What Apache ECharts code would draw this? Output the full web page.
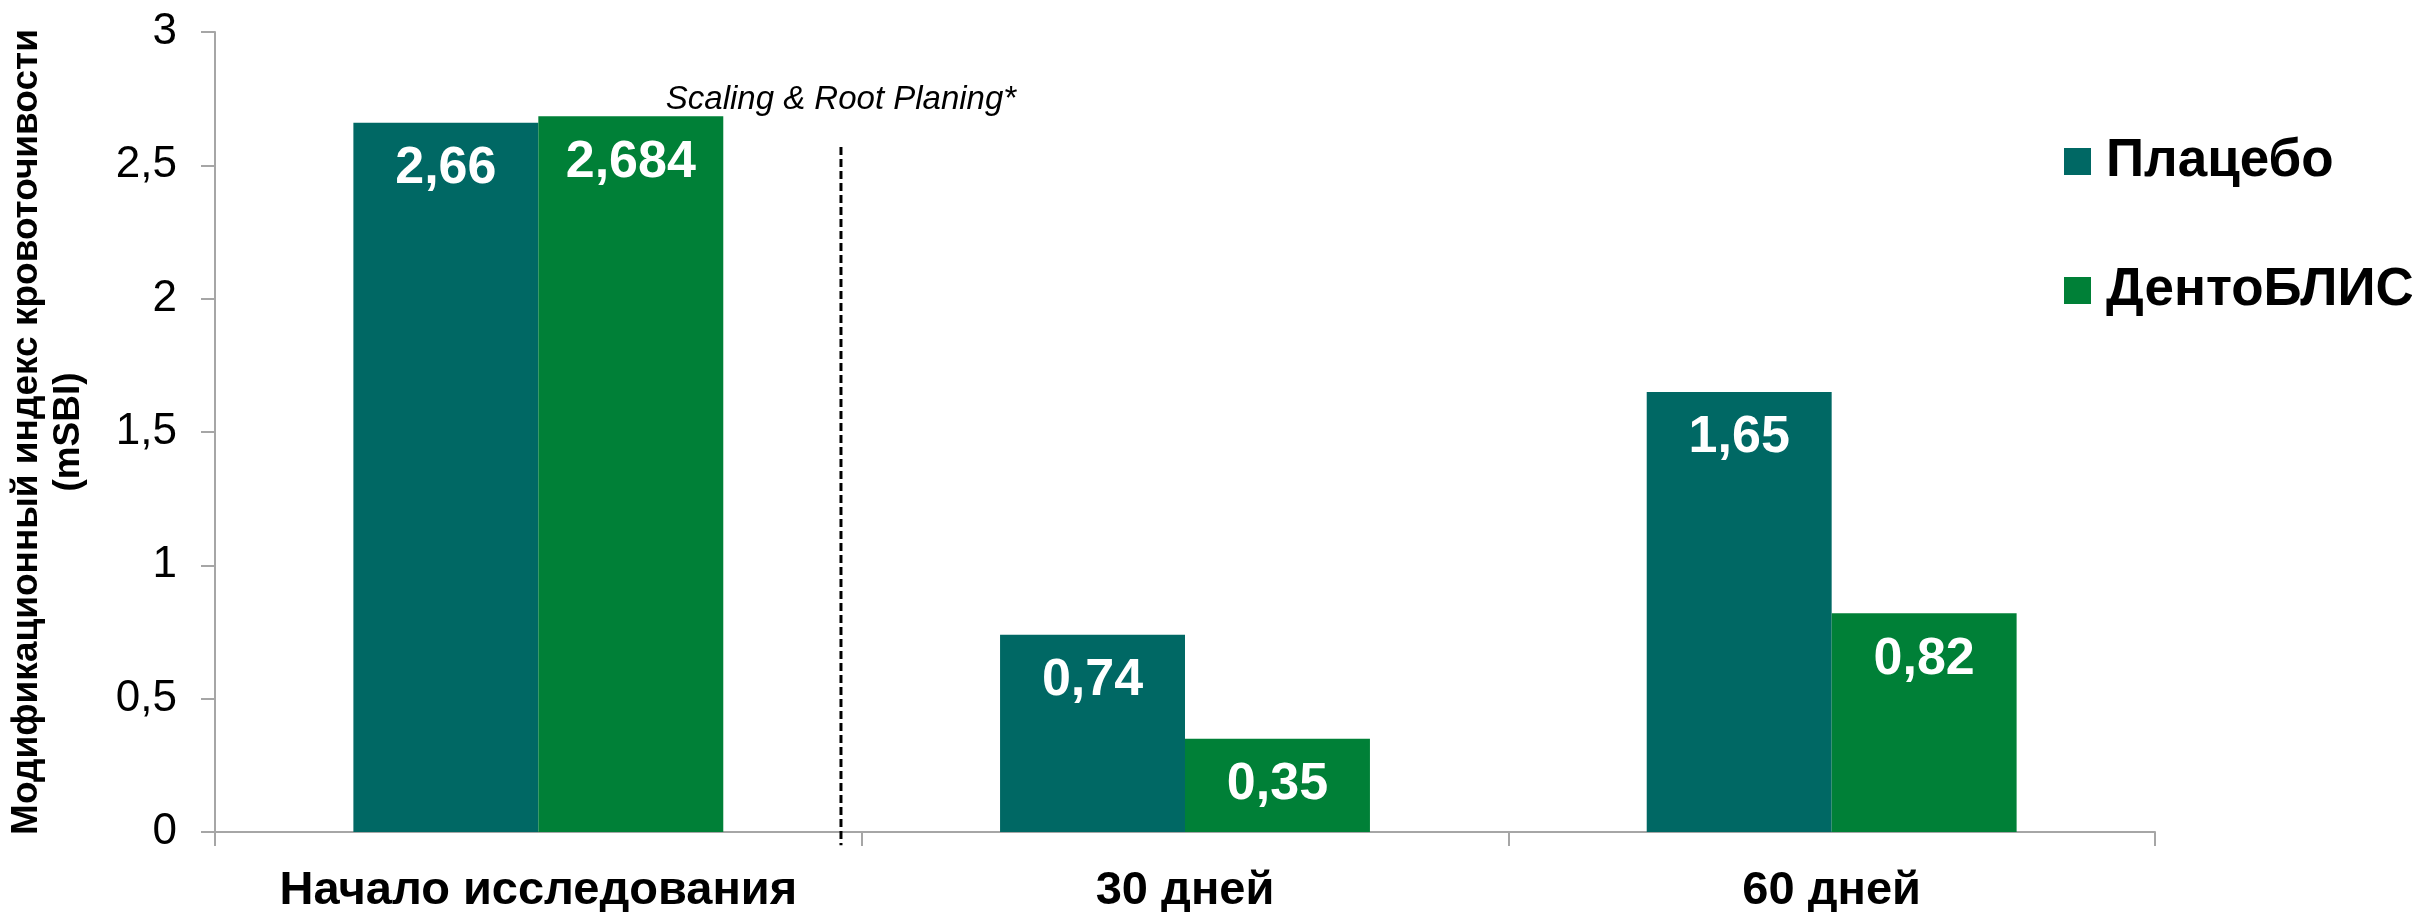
<!DOCTYPE html>
<html>
<head>
<meta charset="utf-8">
<script src="https://cdn.jsdelivr.net/npm/echarts@6/dist/echarts.min.js"></script>
<style>
html,body{margin:0;padding:0;background:#fff;}
#chart{width:2412px;height:912px;}
</style>
</head>
<body>
<div id="chart"></div>
<script>
const categories = ['Начало исследования', '30 дней', '60 дней'];
const seriesNames = ['Плацебо', 'ДентоБЛИС'];
const placeboValues = [2.66, 0.74, 1.65];
const dentoValues = [2.684, 0.35, 0.82];
const yTicks = [0, 0.5, 1, 1.5, 2, 2.5, 3];
const yAxisTitle = 'Модификационный индекс кровоточивости\n(mSBI)';
const annotationText = 'Scaling & Root Planing*';
// separator between baseline and follow-up, in units of category index (x) and index value (y)
const separatorLine = [[0.468, 2.569], [0.468, -0.05]];

const fmt = v => String(v).replace('.', ',');
const FONT = 'Liberation Sans, Arial, sans-serif';

const chart = echarts.init(document.getElementById('chart'), null, {renderer: 'canvas'});

const labelStyle = {
  show: true,
  position: 'insideTop',
  distance: 20,
  color: '#ffffff',
  fontFamily: FONT,
  fontWeight: 'bold',
  fontSize: 52,
  formatter: p => fmt(p.value)
};

chart.setOption({
  animation: false,
  backgroundColor: '#ffffff',
  grid: {left: 215, right: 257, top: 32, bottom: 80, containLabel: false, outerBoundsMode: 'none'},
  legend: {
    data: seriesNames,
    orient: 'vertical',
    left: 2059,
    top: 130,
    itemWidth: 27,
    itemHeight: 27,
    itemGap: 76,
    icon: 'rect',
    textStyle: {fontFamily: FONT, fontWeight: 'bold', fontSize: 53, color: '#000', padding: [0, 0, 0, 10]}
  },
  xAxis: [{
    type: 'category',
    data: categories,
    axisLine: {lineStyle: {color: '#a6a6a6', width: 2}},
    axisTick: {show: true, length: 14, lineStyle: {color: '#a6a6a6', width: 2}},
    axisLabel: {interval: 0, fontFamily: FONT, fontWeight: 'bold', fontSize: 47, color: '#000', margin: 36},
    splitLine: {show: false}
  }, {
    type: 'value',
    min: -0.5,
    max: 2.5,
    show: false
  }],
  yAxis: {
    type: 'value',
    min: 0,
    max: 3,
    interval: 0.5,
    axisLine: {show: true, onZero: false, lineStyle: {color: '#a6a6a6', width: 2}},
    axisTick: {show: true, length: 14, lineStyle: {color: '#a6a6a6', width: 2}},
    axisLabel: {fontFamily: FONT, fontSize: 44, color: '#000', margin: 38, formatter: v => fmt(v)},
    splitLine: {show: false},
    name: yAxisTitle,
    nameLocation: 'middle',
    nameGap: 125,
    nameTextStyle: {fontFamily: FONT, fontWeight: 'bold', fontSize: 37, lineHeight: 42, color: '#000'}
  },
  series: [{
    name: seriesNames[0],
    type: 'bar',
    data: placeboValues,
    barGap: '0%',
    barCategoryGap: '42.8%',
    itemStyle: {color: '#006864'},
    label: labelStyle
  }, {
    name: seriesNames[1],
    type: 'bar',
    data: dentoValues,
    barGap: '0%',
    barCategoryGap: '42.8%',
    itemStyle: {color: '#008037'},
    label: labelStyle
  }, {
    name: 'separator',
    type: 'line',
    xAxisIndex: 1,
    yAxisIndex: 0,
    clip: false,
    silent: true,
    symbol: 'circle',
    symbolSize: 1,
    showSymbol: true,
    itemStyle: {color: 'rgba(0,0,0,0)'},
    lineStyle: {type: [8, 4], color: '#000', width: 3},
    labelLayout: {hideOverlap: false},
    data: [
      {value: separatorLine[0], label: {
        show: true,
        position: 'top',
        formatter: annotationText,
        fontFamily: FONT,
        fontStyle: 'italic',
        fontSize: 33,
        color: '#000',
        distance: 30,
        offset: [7, 0]
      }},
      {value: separatorLine[1], label: {show: false}}
    ]
  }]
});
</script>
</body>
</html>
